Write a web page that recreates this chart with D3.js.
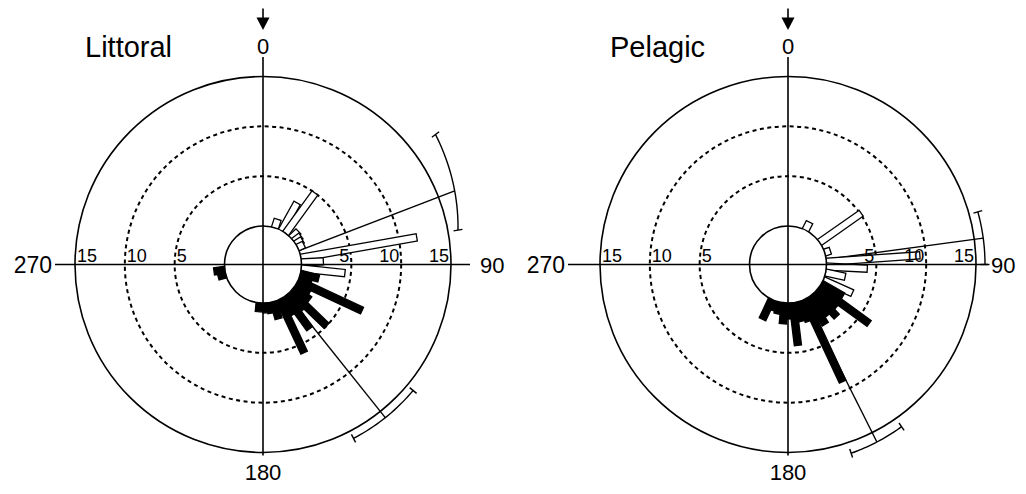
<!DOCTYPE html>
<html lang="en">
<head>
<meta charset="UTF-8">
<title>Littoral / Pelagic</title>
<script src="https://d3js.org/d3.v7.min.js"></script>
<style>
  body { margin: 0; background: #fff; }
  svg { display: block; font-family: 'Liberation Sans', Arial, sans-serif; }
</style>
</head>
<body>
<svg width="1026" height="494"></svg>
<script>
// ---- data (angles in degrees clockwise from north, counts) ----
const panels = ["Littoral", "Pelagic"];
const ringValues = [5, 10, 15];

const littoralOpenAngles = [18, 29, 36, 47, 53, 58, 64, 80, 87, 96];
const littoralOpenCounts = [0.9, 3.2, 5.0, 1.0, 0.9, 0.8, 0.7, 11.8, 2.2, 4.4];
const littoralFilledAngles = [104, 110, 115, 121, 127, 134, 139, 144, 150, 155, 164, 170, 176, 185, 255, 262];
const littoralFilledCounts = [1.9, 1.3, 7.1, 1.6, 2.0, 5.0, 2.2, 4.1, 2.0, 5.9, 1.8, 1.1, 1.0, 0.9, 0.8, 1.1];

const pelagicOpenAngles = [27, 55, 72, 86, 93, 102, 114];
const pelagicOpenCounts = [0.9, 5.1, 0.6, 9.4, 4.1, 2.0, 3.2];
const pelagicFilledAngles = [120, 126, 131, 137, 142, 148, 155, 160, 166, 173, 179, 185, 192, 198, 205];
const pelagicFilledCounts = [2.5, 6.2, 2.6, 3.3, 2.6, 3.2, 9.1, 2.2, 2.0, 4.3, 1.6, 2.1, 1.2, 1.0, 2.2];

// mean direction and 95% confidence limits [mean, low, high]
const littoralOpenMean = [69, 53, 80];
const littoralFilledMean = [141.4, 130, 152.5];
const pelagicOpenMean = [82.3, 74.5, 90];
const pelagicFilledMean = [153.4, 145, 161.5];

const datasets = [
  { title: panels[0], cx: 263, axisL: -208, axisR: 207, gap90: 10,
    open: littoralOpenAngles.map((a, i) => ({ a, v: littoralOpenCounts[i] })),
    filled: littoralFilledAngles.map((a, i) => ({ a, v: littoralFilledCounts[i] })),
    means: [littoralOpenMean, littoralFilledMean],
    bracketR: [[216, 198], [196, 196]] },
  { title: panels[1], cx: 788, axisL: -220, axisR: 200, gap90: 3,
    open: pelagicOpenAngles.map((a, i) => ({ a, v: pelagicOpenCounts[i] })),
    filled: pelagicFilledAngles.map((a, i) => ({ a, v: pelagicFilledCounts[i] })),
    means: [pelagicOpenMean, pelagicFilledMean],
    bracketR: [[197, 197], [198, 199]] }
];

const svg = d3.select("svg");
const cy = 264.5;
const r = d3.scaleLinear().domain([0, 15]).range([38.5, 188]);
const rad = d => d * Math.PI / 180;
const px = (a, rr) => rr * Math.sin(rad(a));
const py = (a, rr) => -rr * Math.cos(rad(a));
const barW = 7.2;

datasets.forEach(ds => {
  const g = svg.append("g").attr("transform", `translate(${ds.cx},${cy})`);

  // outer circle + dashed rings
  g.append("circle").attr("r", r(15))
    .attr("fill", "none").attr("stroke", "#000").attr("stroke-width", 1.6);
  g.selectAll(".ring").data(ringValues.slice(0, 2)).join("circle")
    .attr("r", d => r(d))
    .attr("fill", "none").attr("stroke", "#000").attr("stroke-width", 2)
    .attr("stroke-dasharray", "4,3.5");

  // mean vectors, running out to the confidence bracket
  ds.means.forEach((m, k) => {
    const [r1, r2] = ds.bracketR[k];
    const rm = r1 + (r2 - r1) * (m[0] - m[1]) / (m[2] - m[1]);
    g.append("line")
      .attr("x1", 0).attr("y1", 0)
      .attr("x2", px(m[0], rm)).attr("y2", py(m[0], rm))
      .attr("stroke", "#000").attr("stroke-width", 1.4);
  });

  // bars
  const barGroup = (data, fill) => {
    g.selectAll(null).data(data).join("rect")
      .attr("transform", d => `rotate(${d.a})`)
      .attr("x", -barW / 2)
      .attr("y", d => -r(d.v))
      .attr("width", barW)
      .attr("height", d => r(d.v) - r(0) + 6)
      .attr("fill", fill)
      .attr("stroke", "#000").attr("stroke-width", 1.3);
  };
  barGroup(ds.open, "#fff");
  barGroup(ds.filled, "#000");

  // inner circle
  g.append("circle").attr("r", r(0))
    .attr("fill", "#fff").attr("stroke", "#000").attr("stroke-width", 1.6);

  // axes
  g.append("line").attr("x1", ds.axisL).attr("x2", ds.axisR).attr("y1", 0).attr("y2", 0)
    .attr("stroke", "#000").attr("stroke-width", 1.6);
  g.append("line").attr("x1", 0).attr("x2", 0).attr("y1", -207.5).attr("y2", 191)
    .attr("stroke", "#000").attr("stroke-width", 1.6);

  // confidence brackets
  ds.means.forEach((m, k) => {
    const [r1, r2] = ds.bracketR[k];
    const steps = d3.range(0, 1.0001, 0.05);
    const pts = steps.map(t => {
      const a = m[1] + (m[2] - m[1]) * t, rr = r1 + (r2 - r1) * t;
      return [px(a, rr), py(a, rr)];
    });
    g.append("path").attr("d", d3.line()(pts))
      .attr("fill", "none").attr("stroke", "#000").attr("stroke-width", 1.4);
    [[m[1], r1], [m[2], r2]].forEach(([a, rr]) => {
      g.append("line")
        .attr("x1", px(a, rr - 4.5)).attr("y1", py(a, rr - 4.5))
        .attr("x2", px(a, rr + 4.5)).attr("y2", py(a, rr + 4.5))
        .attr("stroke", "#000").attr("stroke-width", 1.4);
    });
  });

  // ring labels
  ringValues.forEach(v => {
    g.append("text").attr("x", r(v) - 2).attr("y", -3)
      .attr("text-anchor", "end").attr("font-size", 18).text(v);
    g.append("text").attr("x", -r(v) + 2).attr("y", -3)
      .attr("text-anchor", "start").attr("font-size", 18).text(v);
  });

  // compass labels
  g.append("text").attr("x", 0).attr("y", -211).attr("text-anchor", "middle")
    .attr("font-size", 22).text("0");
  g.append("text").attr("x", 0).attr("y", 215).attr("text-anchor", "middle")
    .attr("font-size", 22).text("180");
  g.append("text").attr("x", ds.axisR + ds.gap90).attr("y", 8).attr("text-anchor", "start")
    .attr("font-size", 22).text("90");
  g.append("text").attr("x", ds.axisL - 3).attr("y", 8).attr("text-anchor", "end")
    .attr("font-size", 23).text("270");

  // arrow
  g.append("line").attr("x1", 0).attr("x2", 0).attr("y1", -256).attr("y2", -244)
    .attr("stroke", "#000").attr("stroke-width", 1.6);
  g.append("path").attr("d", "M-6.5,-247 L6.5,-247 L0,-234.5 Z").attr("fill", "#000");

  // title
  svg.append("text").attr("x", ds.cx - 178).attr("y", 57)
    .attr("font-size", 29).text(ds.title);
});
</script>
</body>
</html>
